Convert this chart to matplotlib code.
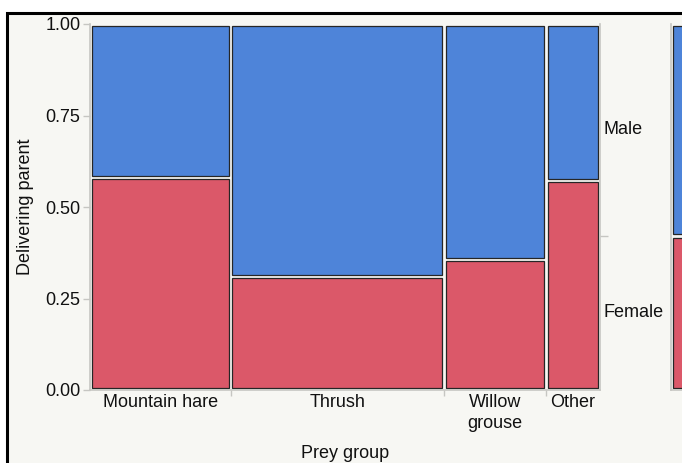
import matplotlib
matplotlib.use("Agg")
import matplotlib.pyplot as plt
from matplotlib.patches import Rectangle
from matplotlib.transforms import blended_transform_factory

plt.rcParams['font.family'] = ['Liberation Sans', 'DejaVu Sans']

# mosaic data
prey = ["Mountain hare", "Thrush", "Willow\ngrouse", "Other"]
prey_share = [0.276, 0.418, 0.200, 0.106]      # column widths
female_share = [0.581, 0.310, 0.356, 0.572]    # red part of each column
female_total = 0.421                            # marginal bar on the right
parents = ["Female", "Male"]

blue = '#4e84d9'
red = '#db5869'
bg = '#f7f7f3'
grey = '#c6c6c2'
fs = 13

W, H = 682, 463
fig = plt.figure(figsize=(W / 100, H / 100), dpi=100)
fig.patch.set_facecolor('white')
frame = Rectangle((7 / W, -0.1), 1.2, 1 - 13 / H + 0.1, transform=fig.transFigure,
                  facecolor=bg, edgecolor='black', lw=2.2, zorder=-5)
fig.patches.append(frame)

ax_w, ax_h = 510, 366
ax = fig.add_axes([90 / W, 1 - 390 / H, ax_w / W, ax_h / H])
ax.set_facecolor(bg)
ax.set_xlim(0, 1)
ax.set_ylim(0, 1)

dx = 1.6 / ax_w
dy = 1.6 / ax_h


def tile(a, x0, y0, w, h, color, dx, dy):
    a.add_patch(Rectangle((x0 + dx, y0 + dy), w - 2 * dx, h - 2 * dy,
                          facecolor=color, edgecolor='#262626', lw=0.9))


bounds = [0]
for w in prey_share:
    bounds.append(bounds[-1] + w)

centers = []
for i, (w, f) in enumerate(zip(prey_share, female_share)):
    x0 = bounds[i]
    tile(ax, x0, 0, w, f, red, dx, dy)
    tile(ax, x0, f, w, 1 - f, blue, dx, dy)
    centers.append(x0 + w / 2)

for s in ['left', 'bottom', 'right']:
    ax.spines[s].set_color(grey)
    ax.spines[s].set_linewidth(1.2)
ax.spines['top'].set_visible(False)

ax.set_xticks(centers)
ax.set_xticklabels(prey, fontsize=fs, color='#111111', linespacing=1.3)
ax.tick_params(axis='x', which='major', length=0, pad=3)
ax.set_xticks(bounds[1:-1], minor=True)
ax.tick_params(axis='x', which='minor', length=4, color=grey, width=1)

yt = [0, 0.25, 0.5, 0.75, 1.0]
ax.set_yticks(yt)
ax.set_yticklabels(["%.2f" % v for v in yt], fontsize=fs, color='#111111')
ax.tick_params(axis='y', length=5, color=grey, width=1, pad=2)

ax.set_xlabel("Prey group", fontsize=fs, color='#111111')
ax.xaxis.label.set_va('center')
ax.xaxis.set_label_coords(0.5, -(453 - 390) / ax_h)
ax.set_ylabel("Delivering parent", fontsize=fs, color='#111111')
ax.yaxis.label.set_va('center')
ax.yaxis.set_label_coords(-(90 - 25) / ax_w, 0.5)

# tick on the right axis at the marginal split
axr = ax.twinx()
axr.set_ylim(0, 1)
axr.set_yticks([female_total])
axr.set_yticklabels([""])
axr.tick_params(axis='y', length=6, color=grey, width=1)
for s in axr.spines.values():
    s.set_visible(False)

trans = blended_transform_factory(ax.transAxes, ax.transData)
label_y = [female_total / 2, (1 + female_total) / 2]
for name, y in zip(parents, label_y):
    ax.text(1.006, y, name, transform=trans, fontsize=fs, color='#111111',
            ha='left', va='center')

# marginal bar
axm = fig.add_axes([671 / W, 1 - 390 / H, 30 / W, ax_h / H])
axm.set_facecolor(bg)
axm.set_xlim(0, 1)
axm.set_ylim(0, 1)
mdx = 1.6 / 30
tile(axm, 0, 0, 1, female_total, red, mdx, dy)
tile(axm, 0, female_total, 1, 1 - female_total, blue, mdx, dy)
axm.set_xticks([])
axm.set_yticks([])
for s in ['top', 'right']:
    axm.spines[s].set_visible(False)
for s in ['left', 'bottom']:
    axm.spines[s].set_color(grey)
    axm.spines[s].set_linewidth(1.2)

fig.savefig("out.png", dpi=100, facecolor=fig.get_facecolor())
